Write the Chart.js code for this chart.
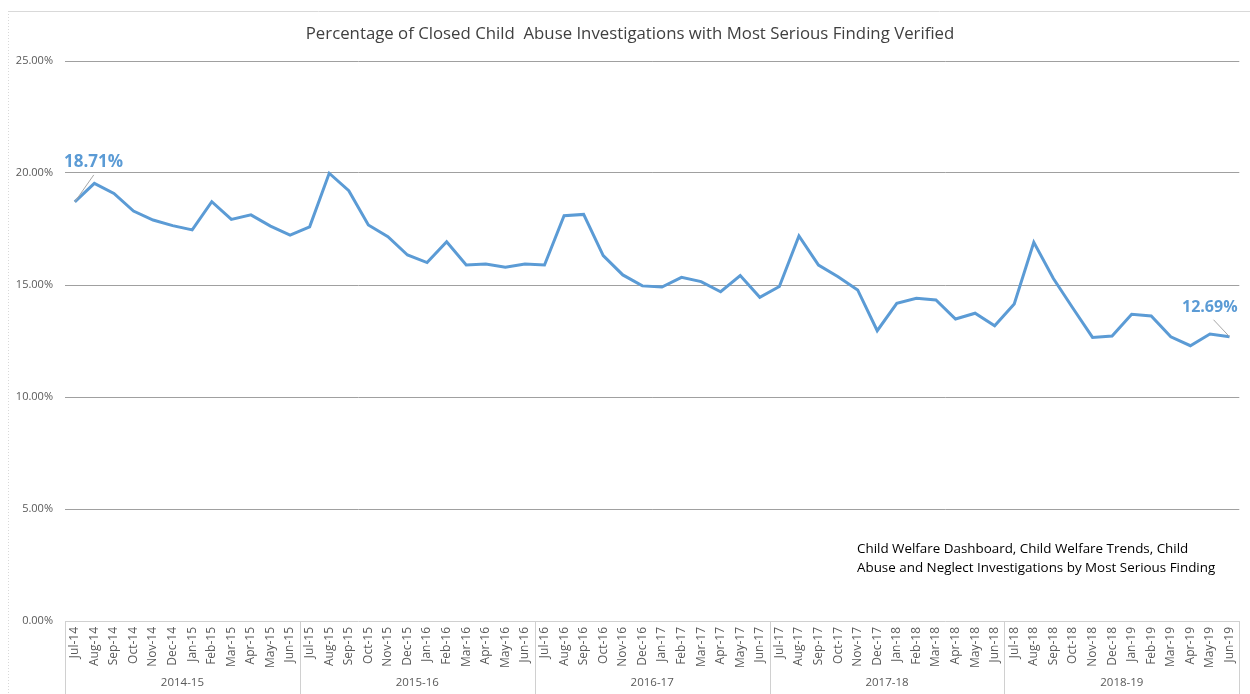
<!DOCTYPE html>
<html>
<head>
<meta charset="utf-8">
<script src="https://cdn.jsdelivr.net/npm/chart.js@4"></script>
<style>
  html, body { margin: 0; padding: 0; background: #fff; }
  #wrap { width: 1250px; height: 694px; position: relative; }
</style>
</head>
<body>
<div id="wrap"><canvas id="myChart" width="1250" height="694"></canvas></div>
<script>
const months = [
  'Jul-14','Aug-14','Sep-14','Oct-14','Nov-14','Dec-14','Jan-15','Feb-15','Mar-15','Apr-15','May-15','Jun-15',
  'Jul-15','Aug-15','Sep-15','Oct-15','Nov-15','Dec-15','Jan-16','Feb-16','Mar-16','Apr-16','May-16','Jun-16',
  'Jul-16','Aug-16','Sep-16','Oct-16','Nov-16','Dec-16','Jan-17','Feb-17','Mar-17','Apr-17','May-17','Jun-17',
  'Jul-17','Aug-17','Sep-17','Oct-17','Nov-17','Dec-17','Jan-18','Feb-18','Mar-18','Apr-18','May-18','Jun-18',
  'Jul-18','Aug-18','Sep-18','Oct-18','Nov-18','Dec-18','Jan-19','Feb-19','Mar-19','Apr-19','May-19','Jun-19'
]
const fiscalYears = ['2014-15', '2015-16', '2016-17', '2017-18', '2018-19']
const verified = [
  18.71, 19.54, 19.09, 18.30, 17.90, 17.65, 17.46, 18.72, 17.93, 18.13, 17.63, 17.23,
  17.60, 19.99, 19.21, 17.68, 17.16, 16.34, 16.00, 16.93, 15.89, 15.94, 15.79, 15.94,
  15.89, 18.09, 18.15, 16.31, 15.45, 14.96, 14.91, 15.34, 15.15, 14.70, 15.42, 14.45,
  14.93, 17.19, 15.89, 15.37, 14.78, 12.96, 14.18, 14.41, 14.33, 13.48, 13.74, 13.18,
  14.15, 16.91, 15.29, 13.96, 12.66, 12.72, 13.69, 13.62, 12.69, 12.29, 12.81, 12.69
]
const yTicks = [0, 5, 10, 15, 20, 25]
const chartTitle = 'Percentage of Closed Child  Abuse Investigations with Most Serious Finding Verified'
const sourceNote = ['Child Welfare Dashboard, Child Welfare Trends, Child', 'Abuse and Neglect Investigations by Most Serious Finding']

const FONT = "'Open Sans', sans-serif"
const BLUE = '#5b9bd5'

// title, note, point labels, fiscal year groups
const extras = {
  id: 'extras',
  afterDraw(chart) {
    const ctx = chart.ctx
    const x = chart.scales.x
    const area = chart.chartArea
    ctx.save()

    // outer border bits
    ctx.strokeStyle = '#d9d9d9'
    ctx.lineWidth = 1
    ctx.beginPath()
    ctx.moveTo(8, 11.5); ctx.lineTo(1250, 11.5)
    ctx.stroke()
    ctx.setLineDash([1, 2])
    ctx.beginPath()
    ctx.moveTo(8.5, 11); ctx.lineTo(8.5, 694)
    ctx.stroke()
    ctx.setLineDash([])

    ctx.fillStyle = '#404040'
    ctx.font = "16.8px " + FONT
    ctx.textAlign = 'center'
    ctx.textBaseline = 'middle'
    ctx.fillText(chartTitle, 630, 34)

    // fiscal year boxes below the month labels
    ctx.strokeStyle = '#d0d0d0'
    ctx.beginPath()
    ctx.moveTo(area.left, area.bottom + 0.5); ctx.lineTo(area.right, area.bottom + 0.5)
    ctx.stroke()
    const step = (x.getPixelForValue(1) - x.getPixelForValue(0))
    ctx.font = "11.5px " + FONT
    ctx.fillStyle = '#595959'
    fiscalYears.forEach((fy, i) => {
      const left = x.getPixelForValue(i * 12) - step / 2
      const right = x.getPixelForValue(i * 12 + 11) + step / 2
      ctx.beginPath()
      ctx.moveTo(Math.round(left) + 0.5, area.bottom)
      ctx.lineTo(Math.round(left) + 0.5, 694)
      ctx.moveTo(Math.round(right) + 0.5, area.bottom)
      ctx.lineTo(Math.round(right) + 0.5, 694)
      ctx.stroke()
      ctx.fillText(fy, (left + right) / 2, 683)
    })

    // labels on first and last point
    const meta = chart.getDatasetMeta(0)
    const first = meta.data[0]
    const last = meta.data[meta.data.length - 1]
    ctx.strokeStyle = '#a6a6a6'
    ctx.beginPath()
    ctx.moveTo(first.x, first.y); ctx.lineTo(first.x + 19, first.y - 27)
    ctx.moveTo(last.x, last.y); ctx.lineTo(last.x - 16, last.y - 17)
    ctx.stroke()
    ctx.fillStyle = BLUE
    ctx.font = "bold 17px " + FONT
    ctx.textAlign = 'left'
    ctx.fillText(verified[0].toFixed(2) + '%', 64, 162)
    ctx.font = "bold 16px " + FONT
    ctx.fillText(verified[verified.length - 1].toFixed(2) + '%', 1182, 307)

    ctx.fillStyle = '#000'
    ctx.font = "13.4px " + FONT
    ctx.fillText(sourceNote[0], 857, 549)
    ctx.fillText(sourceNote[1], 857, 568)
    ctx.restore()
  }
}

const show = document.getElementById('myChart').getContext('2d')
const myChart = new Chart(show, {
  type: 'line',
  data: {
    labels: months,
    datasets: [{
      label: 'Verified',
      data: verified,
      borderColor: BLUE,
      borderWidth: 3,
      pointRadius: 0,
      fill: false,
      tension: 0
    }]
  },
  options: {
    responsive: false,
    animation: false,
    layout: { padding: { top: 61, right: 10, bottom: 0, left: 0 } },
    plugins: { legend: { display: false }, tooltip: { enabled: false }, title: { display: false } },
    scales: {
      x: {
        offset: true,
        grid: { display: false, drawTicks: false },
        border: { display: false },
        ticks: {
          autoSkip: false, minRotation: 90, maxRotation: 90, padding: 6,
          color: '#595959', font: { family: FONT, size: 12 }
        },
        afterFit(scale) { scale.height = 73 }
      },
      y: {
        min: 0, max: 25,
        afterBuildTicks(scale) { scale.ticks = yTicks.map(v => ({ value: v })) },
        grid: {
          drawTicks: false,
          color: ctx => ctx.tick && ctx.tick.value === 0 ? 'rgba(0,0,0,0)' : '#a0a0a0',
          lineWidth: 1
        },
        border: { display: false },
        ticks: {
          padding: 12, color: '#595959', font: { family: FONT, size: 11 },
          callback: v => v.toFixed(2) + '%'
        },
        afterFit(scale) { scale.width = 65 }
      }
    }
  },
  plugins: [extras]
})
</script>
</body>
</html>
